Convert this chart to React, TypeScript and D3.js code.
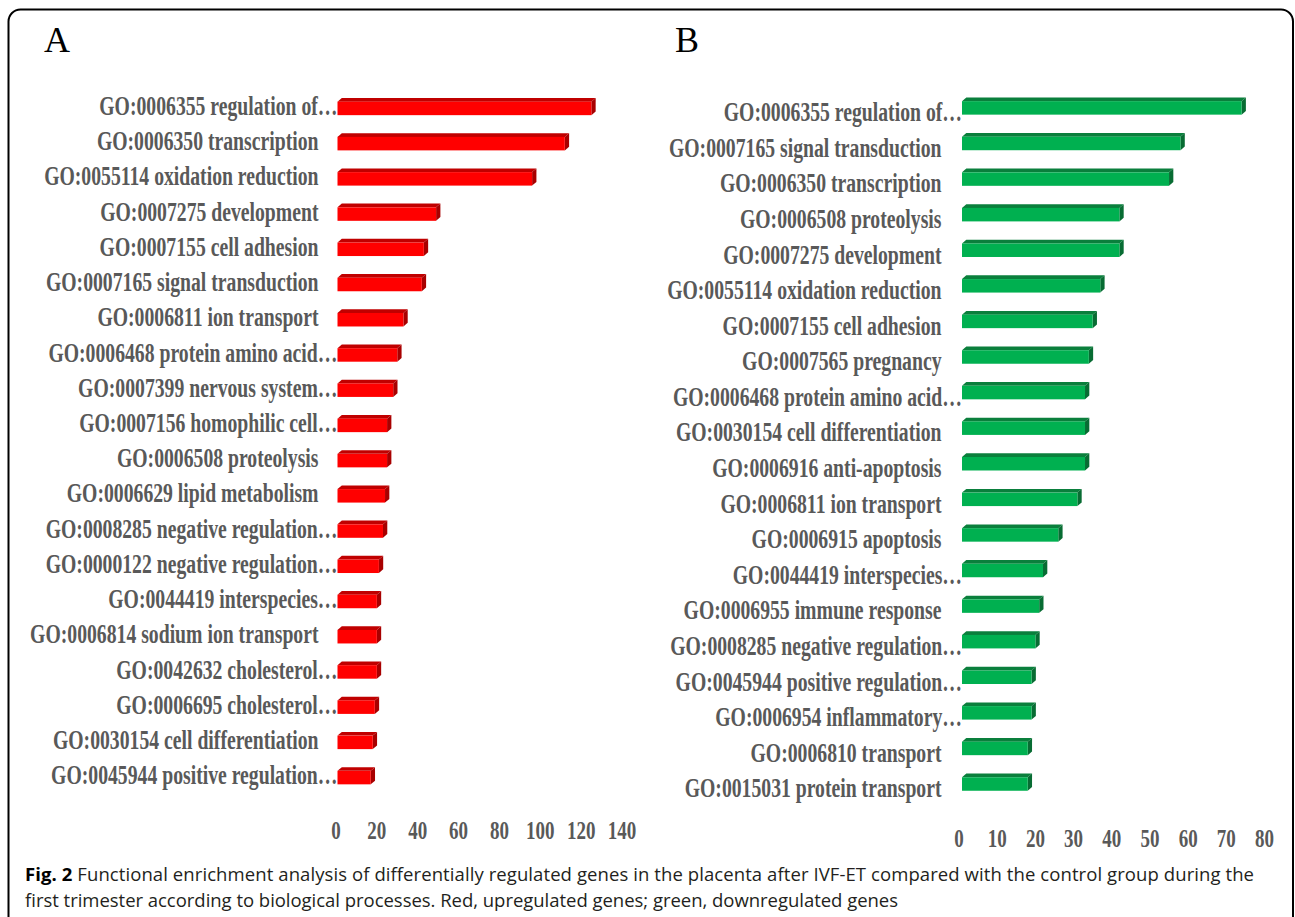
import React from 'react';
import * as d3 from 'd3';

// Panel A: upregulated genes
const LABELS_A = [
  'GO:0006355 regulation of…',
  'GO:0006350 transcription',
  'GO:0055114 oxidation reduction',
  'GO:0007275 development',
  'GO:0007155 cell adhesion',
  'GO:0007165 signal transduction',
  'GO:0006811 ion transport',
  'GO:0006468 protein amino acid…',
  'GO:0007399 nervous system…',
  'GO:0007156 homophilic cell…',
  'GO:0006508 proteolysis',
  'GO:0006629 lipid metabolism',
  'GO:0008285 negative regulation…',
  'GO:0000122 negative regulation…',
  'GO:0044419 interspecies…',
  'GO:0006814 sodium ion transport',
  'GO:0042632 cholesterol…',
  'GO:0006695 cholesterol…',
  'GO:0030154 cell differentiation',
  'GO:0045944 positive regulation…',
];
const VALUES_A = [125, 112, 96, 49, 43, 42, 33, 30, 28, 25, 25, 24, 23, 21, 20, 20, 20, 19, 18, 17];
const TICKS_A = [0, 20, 40, 60, 80, 100, 120, 140];

// Panel B: downregulated genes
const LABELS_B = [
  'GO:0006355 regulation of…',
  'GO:0007165 signal transduction',
  'GO:0006350 transcription',
  'GO:0006508 proteolysis',
  'GO:0007275 development',
  'GO:0055114 oxidation reduction',
  'GO:0007155 cell adhesion',
  'GO:0007565 pregnancy',
  'GO:0006468 protein amino acid…',
  'GO:0030154 cell differentiation',
  'GO:0006916 anti-apoptosis',
  'GO:0006811 ion transport',
  'GO:0006915 apoptosis',
  'GO:0044419 interspecies…',
  'GO:0006955 immune response',
  'GO:0008285 negative regulation…',
  'GO:0045944 positive regulation…',
  'GO:0006954 inflammatory…',
  'GO:0006810 transport',
  'GO:0015031 protein transport',
];
const VALUES_B = [74, 58, 55, 42, 42, 37, 35, 34, 33, 33, 33, 31, 26, 22, 21, 20, 19, 19, 18, 18];
const TICKS_B = [0, 10, 20, 30, 40, 50, 60, 70, 80];

const CAPTION_BOLD = 'Fig. 2';
const CAPTION_LINE1 =
  ' Functional enrichment analysis of differentially regulated genes in the placenta after IVF-ET compared with the control group during the';
const CAPTION_LINE2 =
  'first trimester according to biological processes. Red, upregulated genes; green, downregulated genes';

const W = 1295;
const H = 917;
const SQUEEZE = 0.73; // the original chart image is horizontally compressed
const GRAY = '#595959';

interface PanelProps {
  letter: string;
  letterX: number;
  labels: string[];
  values: number[];
  ticks: number[];
  xRange: [number, number];
  yRange: [number, number];
  barStart: number;
  labelDy: number;
  tickY: number;
  front: string;
  top: string;
  side: string;
}

const Panel: React.FC<PanelProps> = ({
  letter, letterX, labels, values, ticks, xRange, yRange, barStart, labelDy, tickY, front, top, side,
}) => {
  const x = d3.scaleLinear().domain([ticks[0], ticks[ticks.length - 1]]).range(xRange);
  const y = d3.scalePoint<string>().domain(labels.map((_, i) => String(i))).range(yRange).padding(0.5);
  const barH = 13.5;
  const dx = 4.3;
  const dy = 3.7;
  const x0 = x(0) + barStart;

  return (
    <g>
      <text x={letterX} y={52} fontFamily="'Liberation Serif', serif" fontSize={36} fill="#000">
        {letter}
      </text>

      {values.map((v, i) => {
        const cy = y(String(i)) as number;
        const y0 = cy - barH / 2;
        const x1 = x(v);
        const topFace = `M${x0},${y0} L${x0 + dx},${y0 - dy} L${x1 + dx},${y0 - dy} L${x1},${y0} Z`;
        const sideFace = `M${x1},${y0} L${x1 + dx},${y0 - dy} L${x1 + dx},${y0 + barH - dy} L${x1},${y0 + barH} Z`;
        return (
          <g key={i}>
            <path d={topFace} fill={top} />
            <path d={sideFace} fill={side} />
            <rect x={x0} y={y0} width={x1 - x0} height={barH} fill={front} />
          </g>
        );
      })}

      {labels.map((lab, i) => {
        const cy = y(String(i)) as number;
        const ax = lab.endsWith('…') ? x0 : x(0) - 17.5;
        return (
          <text
            key={i}
            transform={`translate(${ax},${cy + labelDy}) scale(${SQUEEZE},1)`}
            textAnchor="end"
            fontFamily="'Liberation Serif', serif"
            fontWeight="bold"
            fontSize={27}
            fill={GRAY}
          >
            {lab}
          </text>
        );
      })}

      {ticks.map((t) => (
        <text
          key={t}
          transform={`translate(${x(t)},${tickY}) scale(${SQUEEZE},1)`}
          textAnchor="middle"
          fontFamily="'Liberation Serif', serif"
          fontWeight="bold"
          fontSize={26}
          fill={GRAY}
        >
          {t}
        </text>
      ))}
    </g>
  );
};

export default function App() {
  return (
    <svg
      width={W}
      height={H}
      style={{ position: 'absolute', left: 0, top: 0, background: '#fff' }}
    >
      <path
        d={`M8.5,${H + 2} L8.5,21.5 A12,12 0 0 1 20.5,9.5 L1281,9.5 A12,12 0 0 1 1293,21.5 L1293,${H + 2}`}
        fill="none"
        stroke="#000"
        strokeWidth={2}
      />

      <Panel
        letter="A"
        letterX={44}
        labels={LABELS_A}
        values={VALUES_A}
        ticks={TICKS_A}
        xRange={[336, 622]}
        yRange={[90.8, 795.2]}
        barStart={1.5}
        labelDy={6.6}
        tickY={839}
        front="#FF0000"
        top="#C00000"
        side="#A80000"
      />
      <Panel
        letter="B"
        letterX={675}
        labels={LABELS_B}
        values={VALUES_B}
        ticks={TICKS_B}
        xRange={[959, 1264.5]}
        yRange={[90.1, 801.8]}
        barStart={3}
        labelDy={13.3}
        tickY={847}
        front="#00B050"
        top="#0A7F3C"
        side="#086C33"
      />

      <text
        x={25}
        y={880.7}
        fontFamily="'Open Sans', sans-serif"
        fontSize={18.5}
        fill="#231F20"
        textLength={1229}
        lengthAdjust="spacing"
      >
        <tspan fontWeight="bold" fill="#000">{CAPTION_BOLD}</tspan>
        <tspan>{CAPTION_LINE1}</tspan>
      </text>
      <text
        x={25}
        y={906.7}
        fontFamily="'Open Sans', sans-serif"
        fontSize={18.5}
        fill="#231F20"
        textLength={873}
        lengthAdjust="spacing"
      >
        {CAPTION_LINE2}
      </text>
    </svg>
  );
}
